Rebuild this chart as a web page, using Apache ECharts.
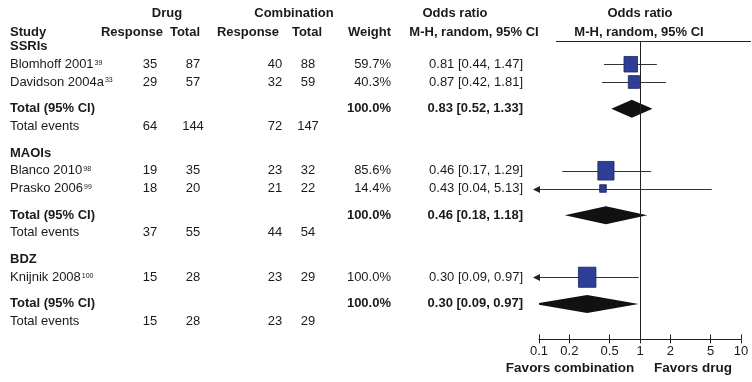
<!DOCTYPE html>
<html>
<head>
<meta charset="utf-8">
<script src="https://cdn.jsdelivr.net/npm/echarts@6/dist/echarts.min.js"></script>
<style>
  html, body { margin: 0; padding: 0; background: #fff; }
  #chart { width: 752px; height: 382px; }
</style>
</head>
<body>
<div id="chart"></div>
<script>
// subgroups and studies
var groupNames = ['SSRIs', 'MAOIs', 'BDZ']
var studyNames = ['Blomhoff 2001', 'Davidson 2004a', 'Blanco 2010', 'Prasko 2006', 'Knijnik 2008']
var studyRefs = ['39', '33', '98', '99', '100']
var studyGroup = [0, 0, 1, 1, 2]
var drugResponse = [35, 29, 19, 18, 15]
var drugTotal = [87, 57, 35, 20, 28]
var combResponse = [40, 32, 23, 21, 23]
var combTotal = [88, 59, 32, 22, 29]
var studyWeight = [59.7, 40.3, 85.6, 14.4, 100.0]
var studyOR = [0.81, 0.87, 0.46, 0.43, 0.30]
var studyLow = [0.44, 0.42, 0.17, 0.04, 0.09]
var studyHigh = [1.47, 1.81, 1.29, 5.13, 0.97]
// subgroup totals
var totalWeight = [100.0, 100.0, 100.0]
var totalOR = [0.83, 0.46, 0.30]
var totalLow = [0.52, 0.18, 0.09]
var totalHigh = [1.33, 1.18, 0.97]
var eventsDrug = [64, 37, 15]
var eventsDrugTotal = [144, 55, 28]
var eventsComb = [72, 44, 23]
var eventsCombTotal = [147, 54, 29]
// axis
var axisTicks = [0.1, 0.2, 0.5, 1, 2, 5, 10]

var FONT = '"Liberation Sans", Arial, Helvetica, sans-serif'
var INK = '#1a1a1a'

// row slots: group header, studies, gap, total, events, gap
var groupSlot = [], studySlot = [], totalSlot = [], eventsSlot = []
var s = 0
groupNames.forEach(function (g, gi) {
  groupSlot.push(s)
  s += 1
  studyGroup.forEach(function (sg, i) {
    if (sg === gi) { studySlot[i] = s; s += 1 }
  })
  totalSlot.push(s + 0.5)
  eventsSlot.push(s + 1.5)
  s += 3
})

// text column anchors (px)
var col = { study: 10, dResp: 150, dTot: 193, cResp: 275, cTot: 308, weight: 391, ci: 523 }

function fmtCI(v, lo, hi) {
  return v.toFixed(2) + ' [' + lo.toFixed(2) + ', ' + hi.toFixed(2) + ']'
}

var cells = []
function cell(x, slot, text, align, bold) {
  cells.push({ x: x, slot: slot, text: String(text), align: align || 'center', bold: !!bold })
}

// header rows
cell(167, -1.87, 'Drug', 'center', true)
cell(294, -1.87, 'Combination', 'center', true)
cell(455, -1.87, 'Odds ratio', 'center', true)
cell(640, -1.87, 'Odds ratio', 'center', true)
cell(col.study, -0.8, 'Study', 'left', true)
cell(132, -0.8, 'Response', 'center', true)
cell(185, -0.8, 'Total', 'center', true)
cell(248, -0.8, 'Response', 'center', true)
cell(307, -0.8, 'Total', 'center', true)
cell(col.weight, -0.8, 'Weight', 'right', true)
cell(474, -0.8, 'M-H, random, 95% CI', 'center', true)
cell(639, -0.8, 'M-H, random, 95% CI', 'center', true)

groupNames.forEach(function (g, gi) {
  cell(col.study, groupSlot[gi], g, 'left', true)
  cell(col.study, totalSlot[gi], 'Total (95% CI)', 'left', true)
  cell(col.weight, totalSlot[gi], totalWeight[gi].toFixed(1) + '%', 'right', true)
  cell(col.ci, totalSlot[gi], fmtCI(totalOR[gi], totalLow[gi], totalHigh[gi]), 'right', true)
  cell(col.study, eventsSlot[gi], 'Total events', 'left')
  cell(col.dResp, eventsSlot[gi], eventsDrug[gi])
  cell(col.dTot, eventsSlot[gi], eventsDrugTotal[gi])
  cell(col.cResp, eventsSlot[gi], eventsComb[gi])
  cell(col.cTot, eventsSlot[gi], eventsCombTotal[gi])
})
studyNames.forEach(function (n, i) {
  cell(col.study, studySlot[i], '{n|' + n + '}{s|' + studyRefs[i] + '}', 'left')
  cell(col.dResp, studySlot[i], drugResponse[i])
  cell(col.dTot, studySlot[i], drugTotal[i])
  cell(col.cResp, studySlot[i], combResponse[i])
  cell(col.cTot, studySlot[i], combTotal[i])
  cell(col.weight, studySlot[i], studyWeight[i].toFixed(1) + '%', 'right')
  cell(col.ci, studySlot[i], fmtCI(studyOR[i], studyLow[i], studyHigh[i]), 'right')
})

var chart = echarts.init(document.getElementById('chart'))
var option = {
  animation: false,
  backgroundColor: '#fff',
  grid: [
    { left: 0, width: 752, top: 2.125, height: 337.25 },
    { left: 539, width: 202, top: 42.0625, height: 297.3125 }
  ],
  xAxis: [
    { gridIndex: 0, type: 'value', min: 0, max: 752, show: false },
    {
      gridIndex: 1, type: 'log', logBase: 10, min: 0.1, max: 10, position: 'bottom',
      axisLine: { onZero: false, lineStyle: { color: '#222', width: 1 } },
      axisTick: { customValues: axisTicks, length: 4, lineStyle: { color: '#222' } },
      axisLabel: {
        customValues: axisTicks, margin: 6, fontSize: 13, fontFamily: FONT, color: INK,
        formatter: function (v) { return String(v) }
      },
      splitLine: { show: false }
    },
    {
      // tick halves above the axis line
      gridIndex: 1, type: 'log', logBase: 10, min: 0.1, max: 10, position: 'bottom',
      axisLine: { show: false, onZero: false },
      axisTick: { customValues: axisTicks, inside: true, length: 5, lineStyle: { color: '#222' } },
      axisLabel: { show: false },
      splitLine: { show: false }
    }
  ],
  yAxis: [
    { gridIndex: 0, type: 'value', inverse: true, min: -2.5, max: 16.5, show: false },
    { gridIndex: 1, type: 'value', inverse: true, min: -0.25, max: 16.5, show: false }
  ],
  graphic: [
    { type: 'line', shape: { x1: 556, y1: 41.5, x2: 751, y2: 41.5 }, style: { stroke: '#222', lineWidth: 1 } },
    { type: 'text', x: 570, y: 368, style: { text: 'Favors combination', align: 'center', verticalAlign: 'middle', font: 'bold 13.5px ' + FONT, fill: INK } },
    { type: 'text', x: 693, y: 368, style: { text: 'Favors drug', align: 'center', verticalAlign: 'middle', font: 'bold 13.5px ' + FONT, fill: INK } }
  ],
  series: [
    {
      // table text
      type: 'custom',
      xAxisIndex: 0, yAxisIndex: 0,
      silent: true,
      data: cells.map(function (c, i) { return [c.x, c.slot, i] }),
      renderItem: function (params, api) {
        var c = cells[api.value(2)]
        var p = api.coord([api.value(0), api.value(1)])
        return {
          type: 'text', x: p[0], y: p[1],
          style: {
            text: c.text, align: c.align, verticalAlign: 'middle',
            font: (c.bold ? 'bold ' : '') + '13px ' + FONT, fill: INK,
            rich: {
              n: { fontSize: 13, fontFamily: FONT, color: INK, lineHeight: 16 },
              s: { fontSize: 7, fontFamily: FONT, color: INK, lineHeight: 16, padding: [0, 0, 3, 1] }
            }
          }
        }
      }
    },
    {
      // study CIs and weighted squares
      type: 'custom',
      xAxisIndex: 1, yAxisIndex: 1,
      silent: true,
      data: studyOR.map(function (v, i) { return [v, studySlot[i], studyLow[i], studyHigh[i], studyWeight[i]] }),
      renderItem: function (params, api) {
        var y = api.value(1)
        var p = api.coord([api.value(0), y])
        var lo = api.value(2), hi = api.value(3)
        var a = api.coord([Math.max(lo, 0.1), y])
        var b = api.coord([Math.min(hi, 10), y])
        var ly = Math.round(a[1]) + 0.5
        var w = 1.75 * Math.sqrt(api.value(4))
        var h = w * 1.15
        var kids = [
          { type: 'line', shape: { x1: a[0], y1: ly, x2: b[0], y2: ly }, style: { stroke: '#333', lineWidth: 1 } },
          { type: 'rect', shape: { x: p[0] - w / 2, y: p[1] - h / 2, width: w, height: h }, style: { fill: '#2E3D96', stroke: '#1C255E', lineWidth: 0.8 } }
        ]
        if (lo < 0.1) {
          kids.push({ type: 'polygon', shape: { points: [[a[0] - 6, ly], [a[0] + 1, ly - 3.5], [a[0] + 1, ly + 3.5]] }, style: { fill: '#222' } })
        }
        return { type: 'group', children: kids }
      },
      markLine: {
        silent: true, symbol: 'none',
        label: { show: false },
        lineStyle: { color: '#222', type: 'solid', width: 1 },
        data: [{ xAxis: 1 }]
      }
    },
    {
      // subgroup pooled diamonds
      type: 'custom',
      xAxisIndex: 1, yAxisIndex: 1,
      silent: true, clip: true,
      data: totalOR.map(function (v, i) { return [v, totalSlot[i], totalLow[i], totalHigh[i]] }),
      renderItem: function (params, api) {
        var y = api.value(1)
        var p = api.coord([api.value(0), y])
        var a = api.coord([api.value(2), y])
        var b = api.coord([api.value(3), y])
        return {
          type: 'polygon',
          shape: { points: [[a[0], p[1]], [p[0], p[1] - 9], [b[0], p[1]], [p[0], p[1] + 9]] },
          style: { fill: '#111' }
        }
      }
    }
  ]
}
chart.setOption(option)
</script>
</body>
</html>
